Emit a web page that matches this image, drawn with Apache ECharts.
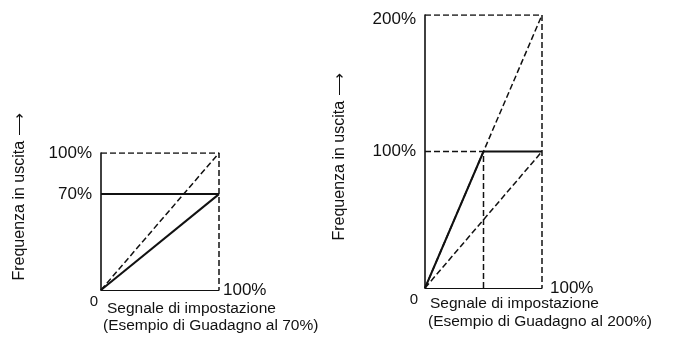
<!DOCTYPE html>
<html>
<head>
<meta charset="utf-8">
<script src="https://cdn.jsdelivr.net/npm/echarts@6/dist/echarts.min.js"></script>
<style>
html,body{margin:0;padding:0;background:#fff;}
#c{width:684px;height:340px;}
</style>
</head>
<body>
<div id="c"></div>
<script>
// ---- data ----
var yTitle = 'Frequenza in uscita \u27F6';
var xCaption1 = 'Segnale di impostazione';
var leftCaption2 = '(Esempio di Guadagno al 70%)';
var rightCaption2 = '(Esempio di Guadagno al 200%)';
var xEndLabel = '100%';
var originLabel = '0';

var leftYTicks = [70, 100];
var rightYTicks = [100, 200];

// left chart (gain 70%)
var leftOutput = [[0, 0], [100, 70]];
var leftLimit = [[0, 70], [100, 70]];
var leftReference = [[0, 0], [100, 100]];
var leftFrame = [[0, 100], [100, 100], [100, 0]];

// right chart (gain 200%)
var rightOutput = [[0, 0], [50, 100], [100, 100]];
var rightGainLine = [[0, 0], [100, 200]];
var rightReference = [[0, 0], [100, 100]];
var rightGuide = [[0, 100], [50, 100], [50, 0]];
var rightFrame = [[0, 200], [100, 200], [100, 0]];

var INK = '#111';
var FONT = 'Liberation Sans, Arial, Helvetica, sans-serif';
var dashStyle = {color: INK, width: 1.5, type: [6, 3]};
var solidStyle = {color: INK, width: 2};

function lineSeries(data, idx, style) {
  return {
    type: 'line', xAxisIndex: idx, yAxisIndex: idx, data: data,
    symbol: 'none', silent: true, animation: false,
    lineStyle: style
  };
}

function yAxisCfg(idx, max, ticks) {
  return {
    type: 'value', gridIndex: idx, min: 0, max: max, interval: 10,
    axisLine: {show: true, onZero: false, lineStyle: {color: INK, width: 1.6}},
    axisTick: {show: false}, splitLine: {show: false},
    axisLabel: {
      show: true, margin: 9, color: INK, fontFamily: FONT, fontSize: 17,
      formatter: function (v) {
        if (ticks.indexOf(v) < 0) return '';
        if (v === 200) return '{t|' + v + '%}';
        return v + '%';
      },
      rich: {t: {fontFamily: FONT, fontSize: 17, color: INK, padding: [8, 0, 0, 0]}}
    }
  };
}

function xAxisCfg(idx, gap, shift) {
  return {
    type: 'value', gridIndex: idx, min: 0, max: 100, interval: 100,
    name: xEndLabel, nameLocation: 'end', nameGap: gap,
    nameTextStyle: {color: INK, fontFamily: FONT, fontSize: 17, align: 'left', verticalAlign: 'middle'},
    axisLine: {show: true, onZero: false, lineStyle: {color: INK, width: 1}},
    axisTick: {show: false}, splitLine: {show: false},
    axisLabel: {
      show: true, margin: 4, color: INK, fontFamily: FONT, fontSize: 15,
      padding: [0, shift, 0, 0],
      formatter: function (v) { return v === 0 ? originLabel : ''; }
    }
  };
}

var chart = echarts.init(document.getElementById('c'), null, {renderer: 'canvas'});
chart.setOption({
  animation: false,
  backgroundColor: '#fff',
  grid: [
    {left: 101, top: 153, width: 118, height: 137},
    {left: 425, top: 15, width: 117, height: 273}
  ],
  xAxis: [xAxisCfg(0, 4, 14), xAxisCfg(1, 8, 22)],
  yAxis: [yAxisCfg(0, 100, leftYTicks), yAxisCfg(1, 200, rightYTicks)],
  series: [
    lineSeries(leftFrame, 0, dashStyle),
    lineSeries(leftReference, 0, dashStyle),
    lineSeries(leftLimit, 0, solidStyle),
    lineSeries(leftOutput, 0, solidStyle),
    lineSeries(rightFrame, 1, dashStyle),
    lineSeries(rightGuide, 1, dashStyle),
    lineSeries(rightGainLine, 1, dashStyle),
    lineSeries(rightReference, 1, dashStyle),
    lineSeries(rightOutput, 1, solidStyle)
  ],
  graphic: [
    {type: 'text', x: 107, y: 309,
      style: {text: xCaption1, fontFamily: FONT, fontSize: 15.5, fill: INK, verticalAlign: 'middle'}},
    {type: 'text', x: 103, y: 326,
      style: {text: leftCaption2, fontFamily: FONT, fontSize: 15.5, fill: INK, verticalAlign: 'middle'}},
    {type: 'text', x: 430, y: 304,
      style: {text: xCaption1, fontFamily: FONT, fontSize: 15.5, fill: INK, verticalAlign: 'middle'}},
    {type: 'text', x: 428, y: 322,
      style: {text: rightCaption2, fontFamily: FONT, fontSize: 15.5, fill: INK, verticalAlign: 'middle'}},
    {type: 'text', x: 20, y: 197, rotation: Math.PI / 2,
      style: {text: yTitle, fontFamily: FONT, fontSize: 16, fill: INK, align: 'center', verticalAlign: 'middle'}},
    {type: 'text', x: 340, y: 157, rotation: Math.PI / 2,
      style: {text: yTitle, fontFamily: FONT, fontSize: 16, fill: INK, align: 'center', verticalAlign: 'middle'}}
  ]
});
</script>
</body>
</html>
